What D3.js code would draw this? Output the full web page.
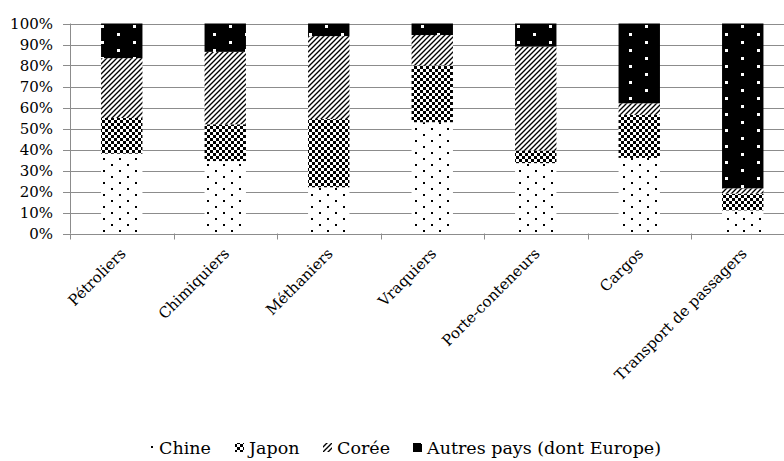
<!DOCTYPE html>
<html>
<head>
<meta charset="utf-8">
<script src="https://cdn.jsdelivr.net/npm/d3@7"></script>
<style>
html,body{margin:0;padding:0;background:#fff;}
svg{display:block;}
text{font-family:"Palatino Linotype","Book Antiqua",Palatino,"DejaVu Serif",serif;fill:#000;}
</style>
</head>
<body>
<svg id="chart" width="784" height="461"></svg>
<script>
const categories = ["Pétroliers","Chimiquiers","Méthaniers","Vraquiers","Porte-conteneurs","Cargos","Transport de passagers"];
const chine  = [38, 34.5, 22, 53, 33.5, 36, 11];
const japon  = [17, 17.5, 32.5, 27, 6, 20.5, 8];
const coree  = [28.5, 34.5, 39.5, 14.5, 49.5, 5.5, 2.5];
const autres = [16.5, 13.5, 6, 5.5, 11, 38, 78.5];
const seriesNames = ["Chine","Japon","Corée","Autres pays (dont Europe)"];
const seriesKeys = ["chine","japon","coree","autres"];
const yTicks = [0,0.1,0.2,0.3,0.4,0.5,0.6,0.7,0.8,0.9,1];

const svg = d3.select("#chart");
const defs = svg.append("defs");

function pat(id,w,h){
  return defs.append("pattern").attr("id",id).attr("patternUnits","userSpaceOnUse")
    .attr("width",w).attr("height",h);
}
let p;
p = pat("p-chine",16,12);
p.append("rect").attr("width",16).attr("height",12).attr("fill","#fff");
p.append("rect").attr("x",7).attr("y",2).attr("width",2).attr("height",2).attr("fill","#000");
p.append("rect").attr("x",15).attr("y",8).attr("width",2).attr("height",2).attr("fill","#000");
p.append("rect").attr("x",-1).attr("y",8).attr("width",2).attr("height",2).attr("fill","#000");

p = pat("p-japon",6,6);
p.append("rect").attr("width",6).attr("height",6).attr("fill","#fff");
p.append("rect").attr("x",0).attr("y",0).attr("width",3).attr("height",3).attr("fill","#000");
p.append("rect").attr("x",3).attr("y",3).attr("width",3).attr("height",3).attr("fill","#000");

p = pat("p-coree",5,5);
p.append("rect").attr("width",5).attr("height",5).attr("fill","#fff");
p.append("path").attr("d","M-1,6 L6,-1 M-1,1 L1,-1 M4,6 L6,4").attr("stroke","#000").attr("stroke-width",1.35);

p = pat("p-autres",32,16);
p.append("rect").attr("width",32).attr("height",16).attr("fill","#000");
p.append("rect").attr("x",5).attr("y",9).attr("width",3).attr("height",3).attr("fill","#fff");
p.append("rect").attr("x",21).attr("y",1).attr("width",3).attr("height",3).attr("fill","#fff");

const rows = categories.map((c,i)=>({cat:c, chine:chine[i]/100, japon:japon[i]/100, coree:coree[i]/100, autres:autres[i]/100}));

const x = d3.scaleBand().domain(categories).range([70,794.5]).paddingInner(0.6).paddingOuter(0.3);
const y = d3.scaleLinear().domain([0,1]).range([233.5,23.5]);

// gridlines
svg.append("g").selectAll("line").data(yTicks).join("line")
  .attr("x1",63).attr("x2",784).attr("y1",d=>Math.round(y(d))+0.5).attr("y2",d=>Math.round(y(d))+0.5)
  .attr("stroke","#8c8c8c").attr("stroke-width",1);

// y axis line
svg.append("line").attr("x1",70.5).attr("x2",70.5).attr("y1",y(1)).attr("y2",y(0))
  .attr("stroke","#8c8c8c");

// y labels
svg.append("g").selectAll("text").data(yTicks).join("text")
  .attr("x",53).attr("y",d=>y(d)).attr("dy","0.35em").attr("text-anchor","end")
  .style("font-size","15px").text(d=>d3.format(".0%")(d));

// x axis ticks
const step = x.step();
const bounds = d3.range(categories.length+1).map(i=>x.range()[0]+i*step);
svg.append("g").selectAll("line").data(bounds).join("line")
  .attr("x1",d=>Math.round(d)+0.5).attr("x2",d=>Math.round(d)+0.5)
  .attr("y1",y(0)).attr("y2",y(0)+6).attr("stroke","#8c8c8c");

// bars
const stacked = d3.stack().keys(seriesKeys)(rows);
svg.append("g").selectAll("g").data(stacked).join("g")
  .attr("fill",d=>"url(#p-"+d.key+")")
  .selectAll("rect").data(d=>d).join("rect")
  .attr("x",d=>x(d.data.cat)).attr("width",x.bandwidth())
  .attr("y",d=>y(d[1])).attr("height",d=>y(d[0])-y(d[1]));

// category labels
svg.append("g").selectAll("text").data(categories).join("text")
  .attr("transform",d=>`translate(${x(d)+x.bandwidth()/2+5},${y(0)+21}) rotate(-45)`)
  .attr("text-anchor","end").style("font-size","15px").text(d=>d);

// legend
const legendX = [145, 235, 323, 413];
const lg = svg.append("g");
seriesKeys.forEach((k,i)=>{
  lg.append("rect").attr("x",legendX[i]).attr("y",443).attr("width",9).attr("height",9)
    .attr("fill","url(#p-"+k+")");
  lg.append("text").attr("x",legendX[i]+14).attr("y",447.5).attr("dy","0.35em")
    .style("font-size","17.5px").text(seriesNames[i]);
});
</script>
</body>
</html>
